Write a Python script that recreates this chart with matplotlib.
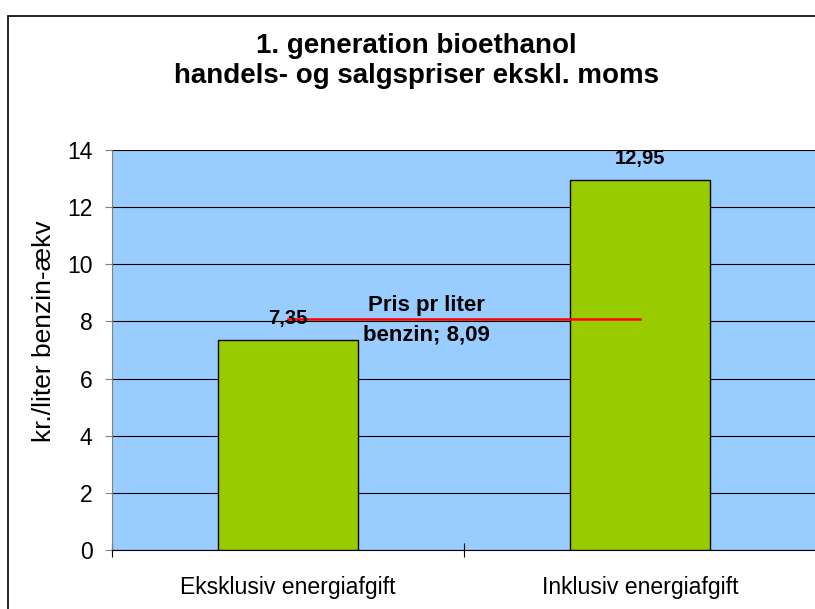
import numpy as np
import matplotlib
matplotlib.use("Agg")
import matplotlib.pyplot as plt
from matplotlib.patches import Rectangle

plt.rcParams['font.family'] = ['Liberation Sans', 'DejaVu Sans']

categories = ["Eksklusiv energiafgift", "Inklusiv energiafgift"]
values = [7.35, 12.95]
value_labels = ["7,35", "12,95"]
benzin_price = 8.09
benzin_label = "Pris pr liter\nbenzin; 8,09"
yticks = [0, 2, 4, 6, 8, 10, 12, 14]

fig = plt.figure(figsize=(8.15, 6.09), dpi=100)
# chart frame (cropped at right and bottom in the reference)
fig.patches.append(Rectangle((8 / 815, -0.1), 1.2, (609 - 16) / 609 + 0.1,
                             transform=fig.transFigure, fill=False,
                             edgecolor='black', linewidth=1.2))

ax = fig.add_axes([112 / 815, 1 - 550 / 609, 704 / 815, 400 / 609])
ax.set_facecolor('#99CCFF')

x = np.arange(len(categories))
ax.bar(x, values, width=0.4, color='#99CC00', edgecolor='black', linewidth=1.0, zorder=3)
for xi, v, lab in zip(x, values, value_labels):
    ax.annotate(lab, (xi, v), xytext=(0, 9), textcoords='offset points',
                ha='center', va='bottom', fontsize=14.5, fontweight='bold', zorder=5)

ax.plot([x[0], x[1]], [benzin_price, benzin_price], color='red', linewidth=1.8, zorder=4)
ax.text(0.392, 8.05, benzin_label, ha='center', va='center', fontsize=16,
        fontweight='bold', linespacing=1.5, zorder=5)

ax.set_xlim(-0.5, 1.5)
ax.set_ylim(0, 14)
ax.set_yticks(yticks)
ax.yaxis.grid(True, color='black', linewidth=0.8, zorder=1)
ax.set_axisbelow(True)

ax.set_xticks([-0.5, 0.5, 1.5])
ax.set_xticklabels([])
ax.set_xticks(x, minor=True)
ax.set_xticklabels(categories, minor=True, fontsize=16.6)
ax.tick_params(axis='x', which='major', direction='inout', length=10, width=0.8)
ax.tick_params(axis='x', which='minor', length=0, pad=19)
ax.tick_params(axis='y', direction='out', length=5, width=0.8, labelsize=16.5, pad=9,
               color='#808080')

for s in ['top', 'right']:
    ax.spines[s].set_visible(False)
ax.spines['left'].set_color('#808080')
ax.spines['bottom'].set_color('black')

ax.set_ylabel("kr./liter benzin-ækv", fontsize=19, va='center')
ax.yaxis.set_label_coords((44 - 112) / 704, (550 - 331) / 400)

fig.text(416 / 815, 1 - 61 / 609, "1. generation bioethanol\nhandels- og salgspriser ekskl. moms",
         ha='center', va='center', fontsize=20, fontweight='bold', linespacing=1.18)

fig.savefig("out.png", dpi=100)
